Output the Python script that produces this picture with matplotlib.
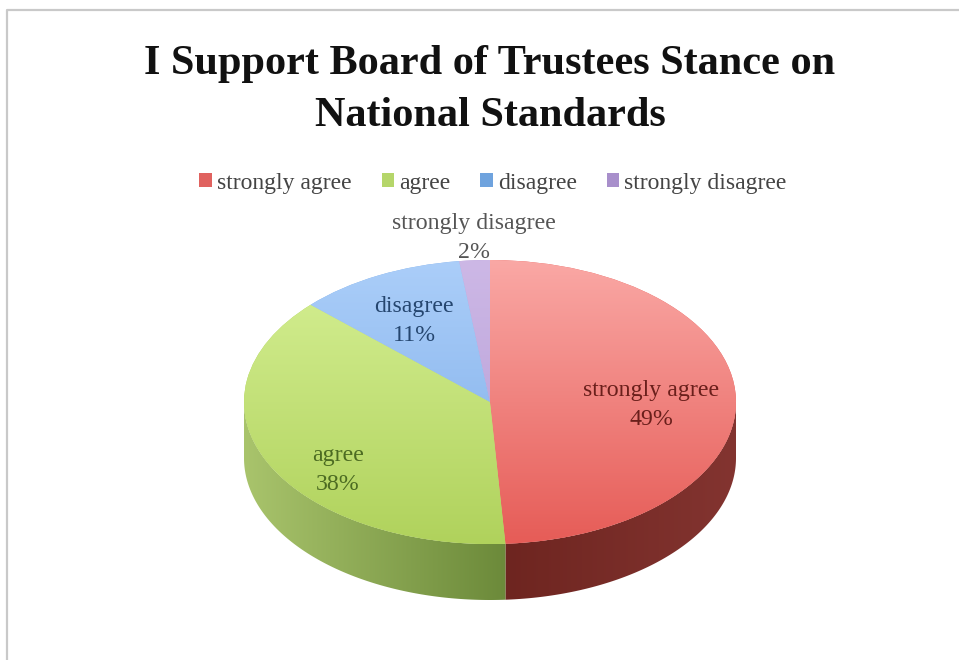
import numpy as np
import matplotlib
matplotlib.use("Agg")
import matplotlib.pyplot as plt
from matplotlib.lines import Line2D
from matplotlib.patches import PathPatch
from matplotlib.path import Path
from matplotlib.colors import LinearSegmentedColormap

W, H = 959, 660
plt.rcParams['font.family'] = ['Liberation Serif', 'DejaVu Serif']

title = "I Support Board of Trustees Stance on\nNational Standards"
categories = ["strongly agree", "agree", "disagree", "strongly disagree"]
values = [49, 38, 11, 2]
top_colors = [("#FAA8A5", "#E65C57"), ("#D6F095", "#B0D25C"),
              ("#ABCEF9", "#7CACE8"), ("#CDB8E6", "#B49AD4")]
wall_colors = [("#6E2520", "#833430"), ("#A9C46C", "#6C8A3A"),
               ("#5F82B0", "#5F82B0"), ("#7F6A9C", "#7F6A9C")]
legend_colors = ["#E0625F", "#B5D66A", "#6FA3DE", "#A88FCB"]
label_colors = ["#6A1F1B", "#4C6B22", "#25466F", "#555555"]
label_pos = [(651, 405), (338, 470), (414, 321), (474, 238)]

cx, cy, rx, ry, depth = 490, 402, 246, 142, 56
d = depth / ry

fig = plt.figure(figsize=(W / 100, H / 100), dpi=100, facecolor="white")
ax = fig.add_axes([(cx - rx) / W, 1 - (cy + ry + depth) / H, 2 * rx / W, (2 * ry + depth) / H])
wedges, _ = ax.pie(values, startangle=90, counterclock=False, radius=1)
ax.set_aspect("auto")

# side wall of the pie, one gradient per visible slice
edges = 90 - np.cumsum([0] + values) * 3.6
for i in range(len(values)):
    a0, a1 = edges[i + 1], edges[i]
    lo, hi = max(a0, -180), min(a1, 0)
    if hi <= lo:
        continue
    t = np.radians(np.linspace(lo, hi, 120))
    x, y = np.cos(t), np.sin(t)
    verts = np.r_[np.c_[x, y], np.c_[x[::-1], y[::-1] - d], [[x[0], y[0]]]]
    cm = LinearSegmentedColormap.from_list("w", wall_colors[i])
    g = np.linspace(0, 1, 256)[None, :]
    im = ax.imshow(g, cmap=cm, extent=(x.min(), x.max(), -1 - d, 0),
                   aspect="auto", zorder=1, interpolation="bilinear")
    poly = PathPatch(Path(verts, closed=True), transform=ax.transData, fc="none", ec="none")
    ax.add_patch(poly)
    im.set_clip_path(poly)

# top face, vertical gradient clipped to each wedge
for i, w in enumerate(wedges):
    w.set_zorder(2)
    w.set_facecolor(top_colors[i][1])
    cm = LinearSegmentedColormap.from_list("t", top_colors[i])
    g = np.linspace(0, 1, 256)[:, None]
    im = ax.imshow(g, cmap=cm, extent=(-1, 1, -1, 1), aspect="auto", zorder=3,
                   interpolation="bilinear")
    im.set_clip_path(w)

ax.set_xlim(-1, 1)
ax.set_ylim(-1 - d, 1)
ax.axis("off")

def fx(px): return px / W
def fy(py): return 1 - py / H

fig.text(fx(490), fy(90), title, ha="center", va="center", fontsize=30.4,
         fontweight="bold", color="#111111", linespacing=1.45)

handles = [plt.Rectangle((0, 0), 1, 1, fc=c, ec="none") for c in legend_colors]
fig.legend(handles, categories, ncol=4, loc="center",
           bbox_to_anchor=(fx(493), fy(183)), frameon=False, fontsize=17,
           handlelength=0.52, handleheight=0.52, handletextpad=0.22,
           columnspacing=1.27, labelcolor="#444444")

for cat, v, (px, py), c in zip(categories, values, label_pos, label_colors):
    fig.text(fx(px), fy(py), f"{cat}\n{v}%", ha="center", va="center",
             fontsize=17.2, color=c, linespacing=1.55)

fig.add_artist(Line2D([fx(7), fx(7), fx(W)], [0, fy(10), fy(10)], color="#C9C9C9", lw=1.6))
fig.savefig("out.png", dpi=100)
